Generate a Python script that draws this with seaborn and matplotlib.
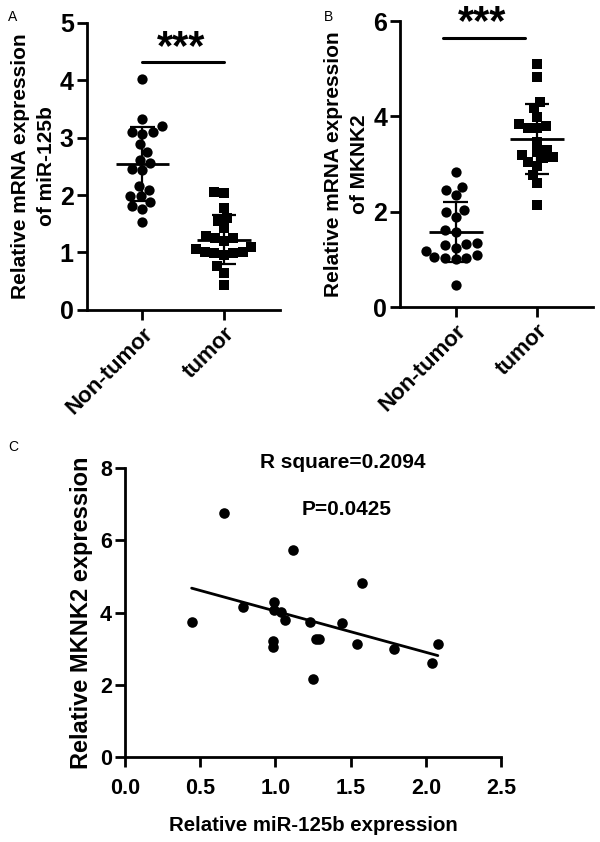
import numpy as np
import pandas as pd
import matplotlib
matplotlib.use("Agg")
import matplotlib.pyplot as plt
import seaborn as sns

# ---------------- data ----------------
groups = ["Non-tumor", "tumor"]
a_nontumor = [4.02, 3.32, 3.21, 3.10, 3.10, 3.07, 2.88, 2.75, 2.61, 2.55,
              2.46, 2.43, 2.16, 2.09, 1.98, 1.98, 1.88, 1.80, 1.75, 1.53]
a_tumor = [2.06, 2.03, 1.78, 1.60, 1.55, 1.43, 1.29, 1.26, 1.25, 1.20,
           1.10, 1.06, 1.01, 1.00, 0.99, 0.99, 0.96, 0.76, 0.65, 0.43]
b_nontumor = [2.84, 2.52, 2.46, 2.35, 1.90, 2.04, 2.00, 1.62, 1.58, 1.35,
              1.32, 1.30, 1.25, 1.18, 1.10, 1.05, 1.04, 1.03, 1.02, 0.47]
b_tumor = [5.11, 4.82, 4.31, 4.17, 3.99, 3.84, 3.80, 3.75, 3.75, 3.47,
           3.30, 3.26, 3.19, 3.15, 3.12, 3.05, 2.97, 2.77, 2.60, 2.14]
c_mir125b = [0.443, 0.658, 0.782, 0.993, 0.993, 1.037, 1.064, 0.986, 0.986, 1.119,
             1.230, 1.270, 1.292, 1.252, 1.445, 1.574, 1.540, 1.789, 2.039, 2.079]
c_mknk2 = [3.73, 6.75, 4.16, 4.30, 4.07, 4.02, 3.79, 3.22, 3.05, 5.74,
           3.73, 3.26, 3.26, 2.15, 3.70, 4.81, 3.12, 2.98, 2.59, 3.12]
a_yticks = [0, 1, 2, 3, 4, 5]
b_yticks = [0, 2, 4, 6]
c_xticks = [0.0, 0.5, 1.0, 1.5, 2.0, 2.5]
c_yticks = [0, 2, 4, 6, 8]
stat_text = ["R square=0.2094", "P=0.0425"]

# ---------------- style ----------------
sns.set_style("ticks")
plt.rcParams["font.family"] = ["Liberation Sans", "DejaVu Sans"]
plt.rcParams["font.weight"] = "bold"
plt.rcParams["axes.linewidth"] = 2.0
for k in ["text.color", "axes.labelcolor", "xtick.color", "ytick.color", "axes.edgecolor"]:
    plt.rcParams[k] = "black"

fig = plt.figure(figsize=(6, 8.42), dpi=100)


def style_axes(ax, tick_fs):
    sns.despine(ax=ax)
    ax.tick_params(axis="both", width=2.0, length=7.5, labelsize=tick_fs, color="black",
                   labelcolor="black", pad=2)
    for lab in ax.get_xticklabels() + ax.get_yticklabels():
        lab.set_fontweight("bold")


def dot_panel(ax, nt, tu, ylim, yticks, ylabel, bar_x, bar_y, star_x, star_y):
    df_nt = pd.DataFrame({"group": groups[0], "value": nt})
    df_tu = pd.DataFrame({"group": groups[1], "value": tu})
    sns.swarmplot(data=df_nt, x="group", y="value", order=groups, marker="o",
                  color="black", size=7.4, ax=ax, linewidth=0)
    sns.swarmplot(data=df_tu, x="group", y="value", order=groups, marker="s",
                  color="black", size=6.6, ax=ax, linewidth=0)
    for i, vals in enumerate([nt, tu]):
        m = np.mean(vals)
        s = np.std(vals, ddof=1)
        ax.hlines(m, i - 0.33, i + 0.33, color="black", lw=2.0, zorder=5)
        ax.hlines([m - s, m + s], i - 0.15, i + 0.15, color="black", lw=1.6, zorder=5)
        ax.vlines(i, m - s, m + s, color="black", lw=1.6, zorder=5)
    ax.set_xlim(-0.68, 1.69)
    ax.set_ylim(*ylim)
    ax.set_yticks(yticks)
    ax.set_xlabel("")
    ax.set_ylabel(ylabel, fontsize=15, fontweight="bold", linespacing=1.45, labelpad=3)
    ax.plot(bar_x, [bar_y, bar_y], color="black", lw=2.2, clip_on=False)
    ax.text(star_x, star_y, "***", ha="center", va="center", fontsize=30,
            fontweight="bold", clip_on=False)
    style_axes(ax, 18)
    ax.set_xticks([0, 1])
    ax.set_xticklabels(groups, rotation=45, ha="right", rotation_mode="anchor",
                       fontsize=16, fontweight="bold")


# Panel A
axA = fig.add_axes([0.145, 0.632, 0.322, 0.341])
dot_panel(axA, a_nontumor, a_tumor, (0, 5), a_yticks,
          "Relative mRNA expression\nof miR-125b", [0, 1], 4.32, 0.48, 4.55)

# Panel B
axB = fig.add_axes([0.667, 0.635, 0.322, 0.340])
dot_panel(axB, b_nontumor, b_tumor, (0, 6), b_yticks,
          "Relative mRNA expression\nof MKNK2", [-0.15, 0.85], 5.64, 0.33, 5.95)

# Panel C
axC = fig.add_axes([0.2083, 0.1013, 0.627, 0.3425])
sns.regplot(x=c_mir125b, y=c_mknk2, ax=axC, ci=None, truncate=True, color="black",
            scatter_kws={"s": 58, "linewidths": 0, "alpha": 1},
            line_kws={"lw": 2.0})
axC.set_xlim(0, 2.5)
axC.set_ylim(0, 8)
axC.set_xticks(c_xticks)
axC.set_xticklabels([f"{v:.1f}" for v in c_xticks])
axC.set_yticks(c_yticks)
axC.set_xlabel("Relative miR-125b expression", fontsize=14.7, fontweight="bold", labelpad=12)
axC.set_ylabel("Relative MKNK2 expression", fontsize=17, fontweight="bold", labelpad=5)
style_axes(axC, 15.5)
axC.tick_params(axis="x", pad=8)
axC.text(1.45, 8.15, stat_text[0], ha="center", va="center", fontsize=15, fontweight="bold")
axC.text(1.47, 6.85, stat_text[1], ha="center", va="center", fontsize=15, fontweight="bold")

# panel letters
fig.text(0.013, 0.988, "A", fontsize=10, fontweight="normal", va="top")
fig.text(0.54, 0.988, "B", fontsize=10, fontweight="normal", va="top")
fig.text(0.013, 0.478, "C", fontsize=10, fontweight="normal", va="top")

fig.savefig("out.png", dpi=100)
